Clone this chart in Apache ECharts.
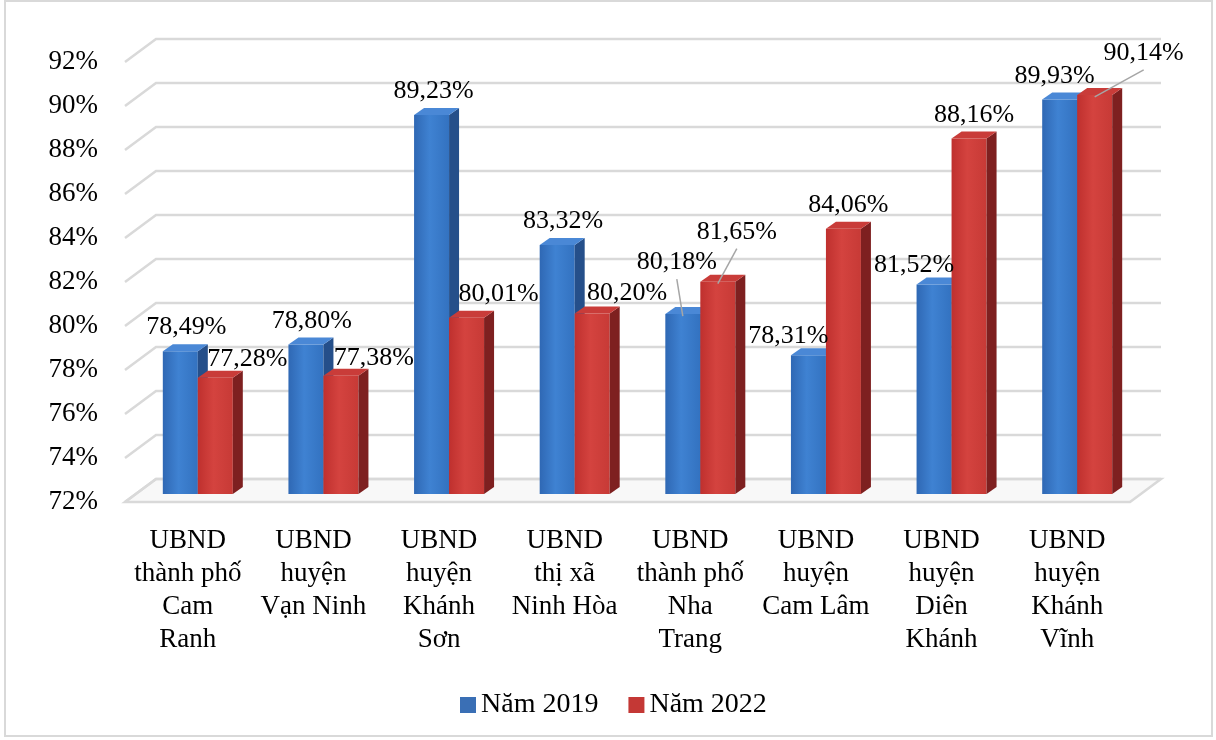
<!DOCTYPE html>
<html>
<head>
<meta charset="utf-8">
<script src="https://cdn.jsdelivr.net/npm/echarts@6/dist/echarts.min.js"></script>
<style>
  html, body { margin: 0; padding: 0; background: #fff; }
  #chart { width: 1216px; height: 740px; }
</style>
</head>
<body>
<div id="chart"></div>
<script>
var categories = [
    'UBND\nthành phố\nCam\nRanh',
    'UBND\nhuyện\nVạn Ninh',
    'UBND\nhuyện\nKhánh\nSơn',
    'UBND\nthị xã\nNinh Hòa',
    'UBND\nthành phố\nNha\nTrang',
    'UBND\nhuyện\nCam Lâm',
    'UBND\nhuyện\nDiên\nKhánh',
    'UBND\nhuyện\nKhánh\nVĩnh'
];
var nam2019 = [78.49, 78.80, 89.23, 83.32, 80.18, 78.31, 81.52, 89.93];
var nam2022 = [77.28, 77.38, 80.01, 80.20, 81.65, 84.06, 88.16, 90.14];
var ticks = [72, 74, 76, 78, 80, 82, 84, 86, 88, 90, 92];

var FONT = '"Liberation Serif", "Times New Roman", serif';
// depth of the back wall and of the bar plane (px)
var WALL_DX = 31, WALL_DY = -23;
var PLANE_DX = 10, PLANE_DY = -8;
var BAR_W = 35, SIDE_DX = 10, SIDE_DY = -7;

// label nudges from the bar's front-top centre: [dx, dy, leader line]
var labelNudge = [
    [[6, -24], [6, -23], [2, -24], [6, -24], [-6, -52, 1], [-20, -19], [-20, -19], [-5, -23]],
    [[32, -19], [33, -17], [32, -24], [35, -20], [19, -50, 1], [5, -24], [5, -23], [49, -42, 1]]
];

var palette = [
    {front: ['#2f68b4', '#3f82d2', '#3372c0'], side: '#254f8a', top: '#4a88d6', legend: '#3a6fb5'},
    {front: ['#bf302e', '#d4433f', '#c73a36'], side: '#7e2020', top: '#c93c39', legend: '#c43835'}
];

function fmt(v) {
    return v.toFixed(2).replace('.', ',') + '%';
}

function barItem(s) {
    return function (params, api) {
        var cat = api.value(0), v = api.value(1);
        var base = api.coord([cat, ticks[0]]);
        var top = api.coord([cat, v]);
        var cx = base[0] + PLANE_DX + (s === 0 ? -BAR_W / 2 : BAR_W / 2);
        var x0 = cx - BAR_W / 2, x1 = cx + BAR_W / 2;
        var yb = base[1] + PLANE_DY, yt = top[1] + PLANE_DY;
        var p = palette[s];
        var nd = labelNudge[s][params.dataIndex];
        var lx = cx + nd[0], ly = yt + nd[1];
        var kids = [
            {
                type: 'rect',
                shape: {x: x0, y: yt, width: BAR_W, height: yb - yt},
                style: {
                    fill: new echarts.graphic.LinearGradient(0, 0, 1, 0, [
                        {offset: 0, color: p.front[0]},
                        {offset: 0.45, color: p.front[1]},
                        {offset: 1, color: p.front[2]}
                    ])
                }
            },
            {
                type: 'polygon',
                shape: {points: [[x1, yt], [x1 + SIDE_DX, yt + SIDE_DY], [x1 + SIDE_DX, yb + SIDE_DY], [x1, yb]]},
                style: {fill: p.side}
            },
            {
                type: 'polygon',
                shape: {points: [[x0, yt], [x0 + SIDE_DX, yt + SIDE_DY], [x1 + SIDE_DX, yt + SIDE_DY], [x1, yt]]},
                style: {fill: p.top}
            },
            {
                type: 'text',
                z2: 100,
                style: {
                    x: lx, y: ly, text: fmt(v),
                    font: '26px ' + FONT, fill: '#000',
                    align: 'center', verticalAlign: 'middle'
                }
            }
        ];
        if (nd[2]) {
            kids.push({
                type: 'line',
                z2: 90,
                shape: {x1: lx, y1: ly + 17, x2: cx, y2: yt + 2},
                style: {stroke: '#a6a6a6', lineWidth: 1.5}
            });
        }
        return {type: 'group', children: kids};
    };
}

function wallItem(params, api) {
    var cs = params.coordSys;
    var v = api.value(1);
    var y = api.coord([0, v])[1];
    var left = cs.x, right = cs.x + cs.width;
    var kids = [{
        type: 'polyline',
        shape: {points: [[left, y], [left + WALL_DX, y + WALL_DY], [right + WALL_DX, y + WALL_DY]]},
        style: {stroke: '#d9d9d9', lineWidth: 2.5, fill: null}
    }];
    if (v === ticks[0]) {
        kids.unshift({
            type: 'polygon',
            shape: {points: [[left, y], [left + WALL_DX, y + WALL_DY], [right + WALL_DX, y + WALL_DY], [right, y]]},
            style: {fill: '#f8f8f8', stroke: '#d9d9d9', lineWidth: 2.5}
        });
    }
    return {type: 'group', children: kids};
}

var chart = echarts.init(document.getElementById('chart'));

var option = {
    backgroundColor: '#fff',
    animation: false,
    graphic: [{
        type: 'rect',
        shape: {x: 5, y: 1, width: 1207, height: 735},
        style: {fill: null, stroke: '#d9d9d9', lineWidth: 2},
        silent: true
    }],
    legend: {
        data: ['Năm 2019', 'Năm 2022'],
        left: 455,
        top: 686,
        itemWidth: 16,
        itemHeight: 16,
        itemGap: 30,
        icon: 'rect',
        textStyle: {fontFamily: FONT, fontSize: 28, color: '#000'}
    },
    grid: {left: 125, top: 62, width: 1005, height: 440},
    xAxis: {
        type: 'category',
        data: categories,
        axisLine: {show: false},
        axisTick: {show: false},
        axisLabel: {
            interval: 0,
            margin: 22,
            fontFamily: FONT,
            fontSize: 27,
            lineHeight: 33,
            color: '#000',
            verticalAlign: 'top'
        }
    },
    yAxis: {
        type: 'value',
        min: ticks[0],
        max: ticks[ticks.length - 1],
        interval: 2,
        axisLine: {show: false},
        axisTick: {show: false},
        splitLine: {show: false},
        axisLabel: {
            formatter: '{value}%',
            margin: 27,
            padding: [8, 0, 0, 0],
            fontFamily: FONT,
            fontSize: 27,
            color: '#000'
        }
    },
    series: [
        {
            name: 'wall',
            type: 'custom',
            silent: true,
            z: 1,
            clip: false,
            renderItem: wallItem,
            data: ticks.map(function (t) { return [0, t]; })
        },
        {
            name: 'Năm 2019',
            type: 'custom',
            z: 2,
            clip: false,
            itemStyle: {color: palette[0].legend},
            renderItem: barItem(0),
            data: nam2019.map(function (v, i) { return [i, v]; })
        },
        {
            name: 'Năm 2022',
            type: 'custom',
            z: 2,
            clip: false,
            itemStyle: {color: palette[1].legend},
            renderItem: barItem(1),
            data: nam2022.map(function (v, i) { return [i, v]; })
        }
    ]
};

chart.setOption(option);
</script>
</body>
</html>
